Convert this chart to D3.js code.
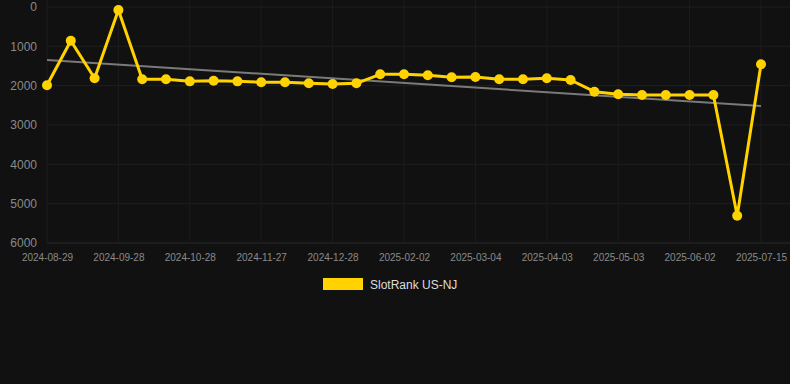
<!DOCTYPE html>
<html>
<head>
<meta charset="utf-8">
<script src="https://cdn.jsdelivr.net/npm/d3@7"></script>
<style>
  html, body { margin: 0; padding: 0; background: #111111; }
  svg { display: block; }
</style>
</head>
<body>
<svg id="chart" width="790" height="384"></svg>
<script>
const dates = [
  "2024-08-29","2024-09-08","2024-09-18","2024-09-28","2024-10-08","2024-10-18",
  "2024-10-28","2024-11-07","2024-11-17","2024-11-27","2024-12-07","2024-12-17",
  "2024-12-28","2025-01-09","2025-01-21","2025-02-02","2025-02-12","2025-02-22",
  "2025-03-04","2025-03-14","2025-03-24","2025-04-03","2025-04-13","2025-04-23",
  "2025-05-03","2025-05-13","2025-05-23","2025-06-02","2025-06-16","2025-06-30",
  "2025-07-15"
];
const rankValues = [
  1990, 857, 1813, 76, 1838, 1838, 1890, 1875, 1890, 1915, 1915, 1940,
  1958, 1940, 1711, 1711, 1737, 1788, 1780, 1838, 1838, 1813, 1856, 2153,
  2220, 2238, 2238, 2238, 2238, 5306, 1457
];
const yTicks = [0, 1000, 2000, 3000, 4000, 5000, 6000];
const xTickLabels = dates.filter((d, i) => i % 3 === 0);
const seriesName = "SlotRank US-NJ";

(function () {
const svg = d3.select("#chart");
const W = 790;
const mLeft = 47, mRight = 761, mTop = 7, mBottom = 243;

const x = d3.scalePoint().domain(dates).range([mLeft, mRight]);
const y = d3.scaleLinear().domain([0, 6000]).range([mTop, mBottom]);

// grid
const grid = svg.append("g");
grid.selectAll("line.h").data(yTicks).join("line")
  .attr("x1", mLeft).attr("x2", W)
  .attr("y1", d => y(d)).attr("y2", d => y(d))
  .attr("stroke", d => d === 6000 ? "#2a2a2a" : "#1f1f1f").attr("stroke-width", 1);
grid.selectAll("line.v").data(xTickLabels).join("line")
  .attr("x1", d => x(d)).attr("x2", d => x(d))
  .attr("y1", 0).attr("y2", mBottom)
  .attr("stroke", "#1c1c1c").attr("stroke-width", 1);

// y axis labels
const yAxis = d3.axisLeft(y).tickValues(yTicks).tickSize(0).tickPadding(0).tickFormat(d3.format("d"));
const yg = svg.append("g").attr("transform", "translate(37,0)").call(yAxis);
yg.select(".domain").remove();
yg.selectAll("text").attr("fill", "#8a8a8a").style("font-family", "Liberation Sans, Arial, sans-serif").style("font-size", "12px");

// x axis labels
const xAxis = d3.axisBottom(x).tickValues(xTickLabels).tickSize(0).tickPadding(0);
const xg = svg.append("g").attr("transform", "translate(0," + (mBottom + 11) + ")").call(xAxis);
xg.select(".domain").remove();
xg.selectAll("text").attr("fill", "#8a8a8a").style("font-family", "Liberation Sans, Arial, sans-serif").style("font-size", "10px");

// trend line (least squares on index)
const n = rankValues.length;
const idx = d3.range(n);
const mx = d3.mean(idx), my = d3.mean(rankValues);
const slope = d3.sum(idx, i => (i - mx) * (rankValues[i] - my)) / d3.sum(idx, i => (i - mx) * (i - mx));
const intercept = my - slope * mx;
svg.append("line")
  .attr("x1", x(dates[0])).attr("y1", y(intercept))
  .attr("x2", x(dates[n - 1])).attr("y2", y(intercept + slope * (n - 1)))
  .attr("stroke", "#7a7a7a").attr("stroke-width", 2);

// series line
const line = d3.line().x((d, i) => x(dates[i])).y(d => y(d));
svg.append("path").datum(rankValues)
  .attr("d", line).attr("fill", "none")
  .attr("stroke", "#FFD200").attr("stroke-width", 3).attr("stroke-linejoin", "round");

svg.append("g").selectAll("circle").data(rankValues).join("circle")
  .attr("cx", (d, i) => x(dates[i])).attr("cy", d => y(d)).attr("r", 5)
  .attr("fill", "#FFD200");

// legend
const lg = svg.append("g");
lg.append("rect").attr("x", 323).attr("y", 278).attr("width", 40).attr("height", 12).attr("fill", "#FFD200");
lg.append("text").attr("x", 370).attr("y", 288.5).text(seriesName)
  .attr("fill", "#dddddd").style("font-family", "Liberation Sans, Arial, sans-serif").style("font-size", "12px");
})();
</script>
</body>
</html>
